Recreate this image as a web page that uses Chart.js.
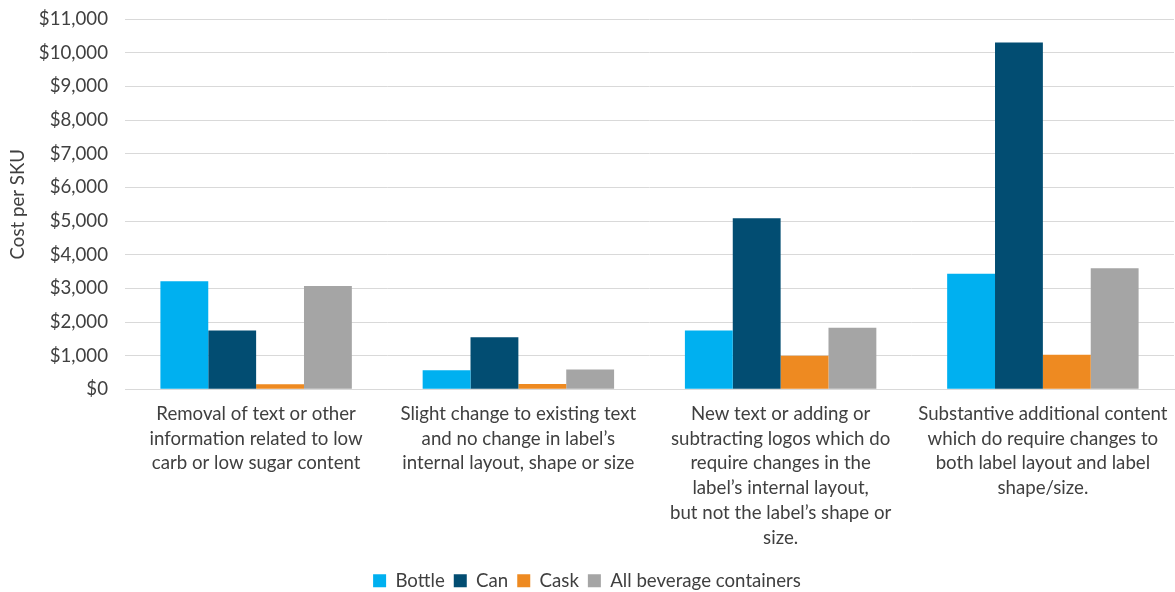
<!DOCTYPE html>
<html>
<head>
<meta charset="utf-8">
<script src="https://cdn.jsdelivr.net/npm/chart.js@4/dist/chart.umd.min.js"></script>
<style>
  html, body { margin: 0; padding: 0; background: #ffffff; }
  #wrap { width: 1175px; height: 592px; position: relative; }
</style>
</head>
<body>
<div id="wrap"><canvas id="chart"></canvas></div>
<script>
// Label change types (multi-line category labels)
const categories = [
  ["Removal of text or other", "information related to low", "carb or low sugar content"],
  ["Slight change to existing text", "and no change in label’s", "internal layout, shape or size"],
  ["New text or adding or", "subtracting logos which do", "require changes in the", "label’s internal layout,", "but not the label’s shape or", "size."],
  ["Substantive additional content", "which do require changes to", "both label layout and label", "shape/size."]
];

// Cost per SKU by container type
const bottle = [3210, 570, 1750, 3430];
const can = [1750, 1550, 5080, 10300];
const cask = [150, 160, 1000, 1030];
const allContainers = [3070, 590, 1830, 3600];

const seriesNames = ["Bottle", "Can", "Cask", "All beverage containers"];
const seriesColors = ["#00B0F0", "#024D72", "#EE8A21", "#A5A5A5"];

const yMax = 11000;
const yStep = 1000;

const fontFamily = "Lato, 'Open Sans', sans-serif";
const fontSize = 18.67;
const textColor = "#404040";

new Chart(document.getElementById("chart"), {
  type: "bar",
  data: {
    labels: categories,
    datasets: [bottle, can, cask, allContainers].map((vals, i) => ({
      label: seriesNames[i],
      data: vals,
      backgroundColor: seriesColors[i],
      borderWidth: 0,
      categoryPercentage: 0.73,
      barPercentage: 1.0
    }))
  },
  options: {
    responsive: true,
    maintainAspectRatio: false,
    animation: false,
    layout: { padding: { top: 19, right: 1, left: 0, bottom: -8 } },
    plugins: {
      legend: {
        position: "bottom",
        labels: {
          boxWidth: 13,
          boxHeight: 13,
          padding: 9,
          color: textColor,
          font: { family: fontFamily, size: fontSize }
        }
      },
      tooltip: { enabled: false }
    },
    scales: {
      x: {
        grid: { display: false, drawTicks: false },
        border: { display: true, color: "#d9d9d9", width: 1 },
        afterFit: s => { s.paddingLeft = 0; s.paddingRight = 0; },
        ticks: {
          color: textColor,
          font: { family: fontFamily, size: fontSize, lineHeight: 1.33 },
          padding: 12,
          maxRotation: 0,
          autoSkip: false
        }
      },
      y: {
        min: 0,
        max: yMax,
        grid: { color: "#d9d9d9", drawTicks: false },
        border: { display: false },
        afterFit: s => { s.width = 125; s.paddingTop = 0; s.paddingBottom = 0; },
        title: {
          display: true,
          text: "Cost per SKU",
          color: textColor,
          font: { family: fontFamily, size: fontSize },
          padding: { top: 7, bottom: 0 }
        },
        ticks: {
          stepSize: yStep,
          color: textColor,
          padding: 17,
          font: { family: fontFamily, size: fontSize },
          callback: v => "$" + v.toLocaleString("en-US")
        }
      }
    }
  }
});
</script>
</body>
</html>
